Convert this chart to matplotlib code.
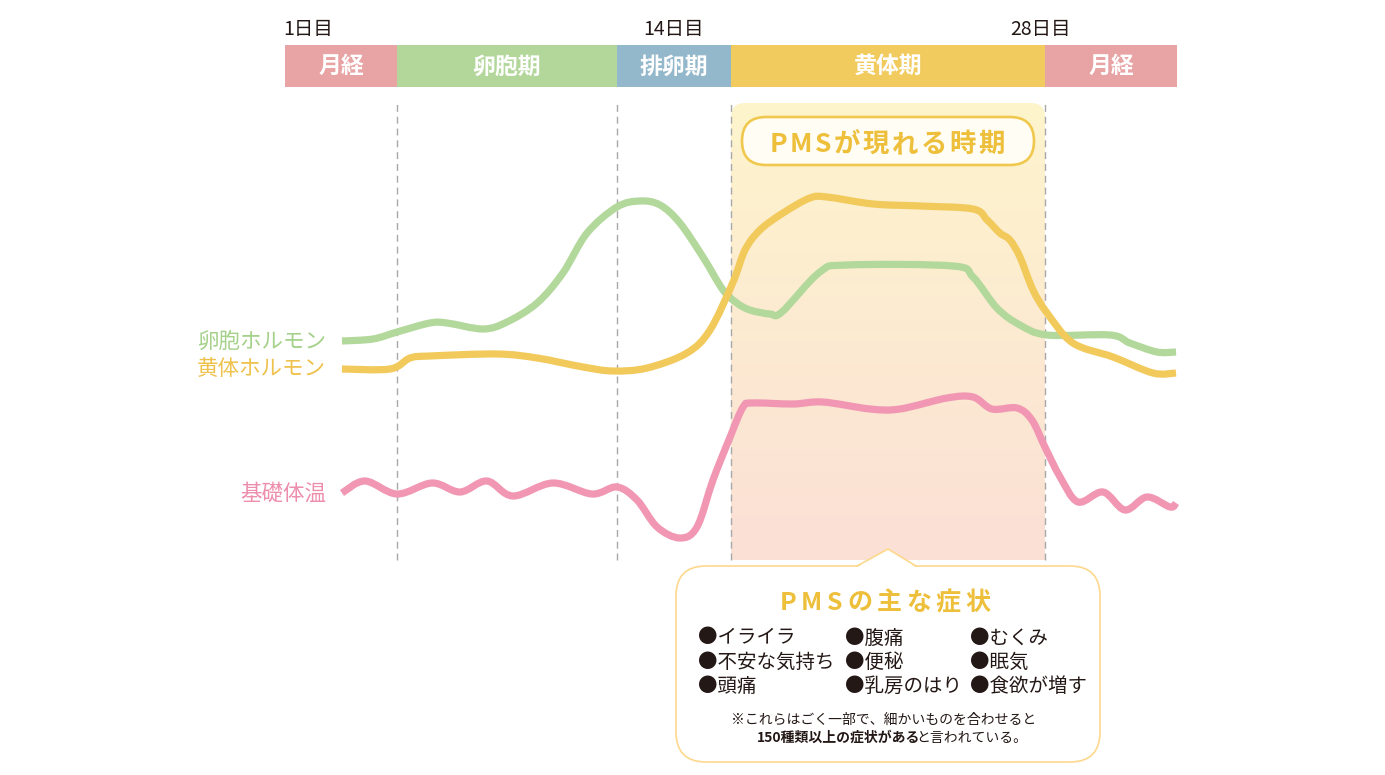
import numpy as np
import matplotlib
matplotlib.use('Agg')
import matplotlib.pyplot as plt
from matplotlib.path import Path
from matplotlib.patches import PathPatch, FancyBboxPatch, Rectangle, Polygon
import matplotlib.transforms as mtransforms

plt.rcParams['font.family'] = ['Noto Sans CJK JP', 'DejaVu Sans']

# ---------------- data ----------------
phase_names = ['月経', '卵胞期', '排卵期', '黄体期', '月経']
phase_edges = [0.0, 4.13, 12.23, 16.43, 28.0, 32.87]   # days
phase_colors = ['#E8A3A4', '#B3D79B', '#93B8CB', '#F1CB5E', '#E8A3A4']
day_labels = ['1日目', '14日目', '28日目']

estrogen_day = [2.10, 3.24, 4.13, 5.34, 5.97, 7.30, 8.18, 9.29, 10.24, 11.13, 12.23,
                13.08, 13.82, 14.55, 15.40, 16.14, 16.65, 17.13, 17.87, 18.31, 19.71,
                20.71, 24.61, 25.35, 26.23, 27.08, 28.08, 30.40, 31.13, 32.13, 32.83]
estrogen_lvl = [54.75, 55.25, 57.0, 59.25, 59.25, 57.75, 59.5, 64.25, 71.75, 81.75, 88.25,
                89.75, 88.75, 84.25, 75.75, 67.5, 64.25, 62.5, 61.5, 62.0, 72.0,
                73.75, 73.5, 70.75, 63.0, 58.75, 56.25, 56.25, 54.25, 52.0, 52.0]

progest_day = [2.10, 3.87, 4.61, 5.34, 7.81, 9.29, 10.98, 12.09, 13.34, 14.81, 15.66,
               16.51, 16.95, 17.50, 18.35, 19.34, 19.97, 21.67, 23.40, 25.35, 25.87,
               26.34, 26.71, 27.08, 27.56, 28.08, 29.03, 30.51, 31.98, 32.83]
progest_lvl = [47.75, 47.75, 50.5, 51.0, 51.5, 50.5, 48.25, 47.25, 48.0, 51.75, 57.5,
               69.5, 77.5, 82.5, 86.75, 90.5, 90.75, 89.0, 88.5, 87.75, 85.0,
               81.75, 80.0, 75.75, 67.5, 61.75, 54.25, 50.75, 46.75, 46.75]

temp_day = [2.10, 2.95, 4.13, 5.42, 6.45, 7.44, 8.40, 9.87, 11.31, 12.23, 12.97, 13.71,
            14.55, 15.18, 15.77, 16.40, 16.88, 17.24, 18.72, 19.82, 21.56, 22.66, 24.39,
            25.35, 26.05, 26.97, 27.52, 28.00, 28.56, 29.22, 30.14, 30.95, 31.76, 32.61, 32.83]
temp_lvl = [16.75, 19.75, 16.5, 19.25, 17.0, 19.75, 16.0, 19.25, 16.5, 18.25, 15.0, 8.25,
            5.5, 8.25, 20.0, 30.75, 38.25, 39.25, 39.0, 39.5, 37.75, 37.75, 40.5,
            40.75, 37.75, 38.0, 35.0, 28.25, 20.75, 14.5, 17.0, 12.5, 15.75, 13.25, 14.25]

series_names = ['卵胞ホルモン', '黄体ホルモン', '基礎体温']
series_colors = ['#B2D89B', '#F2CA5C', '#F197B3']
label_colors = ['#A5D18A', '#EFC24E', '#EE8EAD']

pms_title = 'PMSが現れる時期'
box_title = 'PMSの主な症状'
symptoms = [['イライラ', '不安な気持ち', '頭痛'],
            ['腹痛', '便秘', '乳房のはり'],
            ['むくみ', '眠気', '食欲が増す']]
note_line1 = '※これらはごく一部で、細かいものを合わせると'
note_bold = '150種類以上の症状がある'
note_tail = 'と言われている。'

# ---------------- figure ----------------
W, H = 1385, 775
fig = plt.figure(figsize=(W / 100, H / 100), dpi=100)
ax = fig.add_axes([0, 0, 1, 1])
ax.set_xlim(-10.50, 40.53)
ax.set_ylim(-53.75, 140.0)
ax.axis('off')
renderer = fig.canvas.get_renderer()

# pixel-space transform (origin top-left) for decorations
PX = mtransforms.Affine2D().scale(1 / W, -1 / H).translate(0, 1) + fig.transFigure


def smooth_path(xs, ys):
    pts = np.column_stack([xs, ys]).astype(float)
    verts = [pts[0]]
    codes = [Path.MOVETO]
    n = len(pts)
    for i in range(n - 1):
        p0 = pts[i - 1] if i > 0 else pts[i]
        p1 = pts[i]
        p2 = pts[i + 1]
        p3 = pts[i + 2] if i + 2 < n else pts[i + 1]
        c1 = p1 + (p2 - p0) / 6.0
        c2 = p2 - (p3 - p1) / 6.0
        verts += [c1, c2, p2]
        codes += [Path.CURVE4] * 3
    return Path(verts, codes)


def spaced_text(cx, baseline, s, spacing, **kw):
    """Letter-spaced text centred on cx (pixel coords)."""
    arts, widths = [], []
    for ch in s:
        t = ax.text(0, baseline, ch, transform=PX, ha='left', va='baseline', **kw)
        widths.append(t.get_window_extent(renderer).width)
        arts.append(t)
    total = sum(widths) + spacing * (len(s) - 1)
    x = cx - total / 2
    for t, w in zip(arts, widths):
        t.set_x(x)
        x += w + spacing


def joined_text(cx, baseline, parts, gap=0.0, **kw):
    """Several runs (text, weight) on one baseline, centred on cx."""
    arts, widths = [], []
    for s, wt in parts:
        t = ax.text(0, baseline, s, transform=PX, ha='left', va='baseline',
                    fontweight=wt, **kw)
        widths.append(t.get_window_extent(renderer).width)
        arts.append(t)
    total = sum(widths) + gap * (len(parts) - 1)
    x = cx - total / 2
    for t, w in zip(arts, widths):
        t.set_x(x)
        x += w + gap


# ---- shaded luteal region with vertical gradient ----
lut0, lut1 = phase_edges[3], phase_edges[4]
top_lvl = 115.0
grad = np.linspace(0, 1, 256).reshape(-1, 1)
c_top = np.array(matplotlib.colors.to_rgb('#FEF5CC'))
c_bot = np.array(matplotlib.colors.to_rgb('#FBE0D6'))
img = c_top[None, None, :] * (1 - grad[:, :, None]) + c_bot[None, None, :] * grad[:, :, None]
im = ax.imshow(img, extent=[lut0, lut1, 0, top_lvl], origin='upper', aspect='auto', zorder=0)
clip = FancyBboxPatch((731, 103), 314, 520, boxstyle='round,pad=0,rounding_size=14',
                      transform=PX, facecolor='none', edgecolor='none')
im.set_clip_path(clip)
ax.set_xlim(-10.50, 40.53)
ax.set_ylim(-53.75, 140.0)

# ---- dashed boundary lines ----
for xb in phase_edges[1:5]:
    ax.plot([xb, xb], [0, top_lvl], color='#A8A8A8', lw=1.0,
            dashes=(5, 3.5), zorder=1)

# ---- phase bar ----
bar_lo, bar_hi = 118.25, 128.75
for i, name in enumerate(phase_names):
    x0, x1 = phase_edges[i], phase_edges[i + 1]
    ax.add_patch(Rectangle((x0, bar_lo), x1 - x0, bar_hi - bar_lo,
                           facecolor=phase_colors[i], edgecolor='none', zorder=2))
    ax.text((x0 + x1) / 2, (bar_lo + bar_hi) / 2 - 0.2, name, color='white',
            fontsize=16.5, fontweight='bold', ha='center', va='center', zorder=3)

# ---- day labels ----
lab_y = 132.6
ax.text(phase_edges[0] - 0.08, lab_y, day_labels[0], fontsize=14, color='#231815',
        ha='left', va='center')
ax.text((phase_edges[2] + phase_edges[3]) / 2, lab_y, day_labels[1], fontsize=14,
        color='#231815', ha='center', va='center')
ax.text(phase_edges[4] - 0.15, lab_y, day_labels[2], fontsize=14, color='#231815',
        ha='center', va='center')

# ---- curves ----
curve_data = [(estrogen_day, estrogen_lvl), (temp_day, temp_lvl), (progest_day, progest_lvl)]
curve_idx = [0, 2, 1]
for (xs, ys), ci in zip(curve_data, curve_idx):
    pp = PathPatch(smooth_path(xs, ys), facecolor='none', edgecolor=series_colors[ci],
                   lw=5.2, capstyle='butt', joinstyle='round', zorder=3 + (ci == 1))
    ax.add_patch(pp)

# ---- series labels ----
for ci, (xs, ys) in zip([0, 1, 2], [(estrogen_day, estrogen_lvl),
                                    (progest_day, progest_lvl),
                                    (temp_day, temp_lvl)]):
    ax.text(xs[0] - 0.58, ys[0] - 0.1, series_names[ci], color=label_colors[ci],
            fontsize=15.5, ha='right', va='center')

# ---- PMS period pill ----
pill = FancyBboxPatch((742, 117), 292, 48, boxstyle='round,pad=0,rounding_size=24',
                      transform=PX, facecolor='#FFFDF4', edgecolor='#F1C84E',
                      lw=1.9, zorder=5)
ax.add_patch(pill)
spaced_text(887, 152, pms_title, 2.6, color='#EDBF3A', fontsize=19,
            fontweight='bold', zorder=6)

# ---- symptoms callout ----
bc = '#FCD98C'
box = FancyBboxPatch((676, 566), 424, 196, boxstyle='round,pad=0,rounding_size=30',
                     transform=PX, facecolor='white', edgecolor=bc, lw=1.2, zorder=5)
ax.add_patch(box)
tri = Polygon([(857, 567.5), (888, 549), (916, 567.5)], closed=True, transform=PX,
              facecolor='white', edgecolor='none', zorder=6)
ax.add_patch(tri)
ax.plot([857, 888, 916], [566, 549, 566], color=bc, lw=1.2, transform=PX,
        zorder=6, solid_joinstyle='miter')

spaced_text(885, 610, box_title, 4.6, color='#EDBF3A', fontsize=18,
            fontweight='bold', zorder=7)
col_x = [698, 845, 970]
row_y = [638, 662, 686]
for c, col in enumerate(symptoms):
    for r, s in enumerate(col):
        ax.text(col_x[c], row_y[r], '●' + s, transform=PX, color='#231815',
                fontsize=14, ha='left', va='center', zorder=7)

joined_text(884, 724, [(note_line1, 'normal')], color='#231815', fontsize=10, zorder=7)
joined_text(892, 742, [(note_bold, 'bold'), (note_tail, 'normal')], gap=-4.5,
            color='#231815', fontsize=10, zorder=7)

fig.savefig('out.png', dpi=100, facecolor='white')
